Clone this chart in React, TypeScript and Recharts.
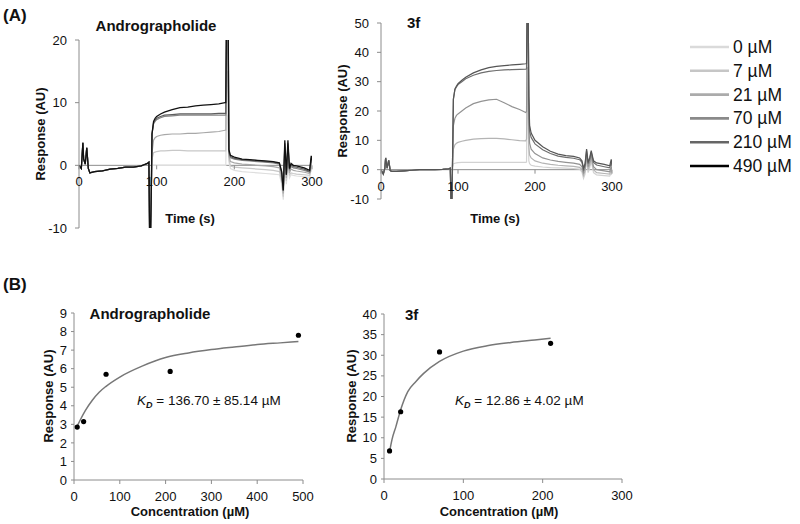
import React from 'react';
import { LineChart, Line, XAxis, YAxis, ReferenceLine, ComposedChart, Scatter } from 'recharts';

const FONT = '"Liberation Sans", Arial, Helvetica, sans-serif';
const AXIS = '#8c8c8c';
const INK = '#111';

// ---------- Sensorgram time points (s) ----------
const tPre = [0, 3, 5, 6, 8, 10, 12, 14, 20, 30, 40, 50, 60, 70, 80, 88, 90, 91, 92];
const tAssoc = [93, 94, 96, 98, 100, 105, 110, 120, 130, 140, 150, 160, 170, 180, 188, 189, 190, 191, 192];
const tDiss = [193, 195, 200, 210, 220, 230, 240, 250, 258, 261, 263, 265, 267, 269, 271, 273, 276, 280, 290, 297, 299, 300];
const timeTicks = [0, 100, 200, 300];

// ---------- Legend ----------
const concLabels = ['0 µM', '7 µM', '21 µM', '70 µM', '210 µM', '490 µM'];
const legendColors = ['#dadada', '#c6c6c6', '#ababab', '#8a8a8a', '#666666', '#000000'];

// ---------- Andrographolide sensorgram (AU) ----------
const androPre = [0, -0.5, 3.6, 1.0, 0.2, 2.8, -0.5, -1.2, -1.0, -0.9, -0.6, -0.5, -0.3, -0.3, -0.1, 0.3, 0.5, -12, -12];
const androAssoc0 = [-5, 0, 0, 0, 0, 0, 0, 0, 0, 0, 0, 0, 0, 0, 0, 0, 8, 8, 5];
const androAssoc7 = [-5, 1, 2.0, 2.1, 2.2, 2.3, 2.3, 2.4, 2.4, 2.3, 2.3, 2.3, 2.3, 2.3, 2.3, 2.3, 15, 15, 10];
const androAssoc21 = [-5, 2, 4.0, 4.4, 4.6, 4.8, 4.9, 5.0, 5.0, 5.1, 5.1, 5.2, 5.3, 5.4, 5.6, 5.6, 20, 20, 15];
const androAssoc70 = [-5, 5, 6.6, 7.0, 7.3, 7.6, 7.8, 7.9, 8.0, 8.0, 8.0, 8.0, 8.0, 8.0, 8.0, 8.0, 25, 25, 25];
const androAssoc210 = [-5, 5, 6.8, 7.2, 7.5, 7.8, 8.0, 8.1, 8.2, 8.2, 8.2, 8.2, 8.2, 8.3, 8.3, 8.3, 25, 25, 25];
const androAssoc490 = [-5, 5, 7.0, 7.5, 7.8, 8.2, 8.5, 8.9, 9.2, 9.3, 9.5, 9.6, 9.7, 9.8, 10.0, 10.0, 25, 25, 25];
const androDiss0 = [0.5, -0.5, -0.8, -1.0, -1.1, -1.2, -1.3, -1.4, -1.5, -3.0, -5.5, 0.5, -3.0, 0.5, -2.0, -1.5, -1.6, -1.7, -1.8, -1.9, -0.5, -1.0];
const androDiss7 = [1.0, -0.1, -0.3, -0.4, -0.5, -0.6, -0.7, -0.8, -1.0, -2.5, -5.0, 1.0, -2.5, 1.0, -1.5, -1.2, -1.3, -1.4, -1.5, -1.6, 0.0, -0.5];
const androDiss21 = [1.5, 0.6, 0.4, 0.2, 0.1, 0.0, -0.1, -0.2, -0.4, -2.0, -4.5, 2.0, -2.0, 2.0, -1.2, -0.6, -0.8, -0.9, -1.1, -1.3, 0.5, 0.0];
const androDiss70 = [2.0, 1.2, 1.0, 0.8, 0.7, 0.6, 0.5, 0.4, 0.2, -1.3, -4.0, 3.0, -1.5, 3.0, -0.8, -0.2, -0.4, -0.5, -0.8, -1.1, 1.0, 0.4];
const androDiss210 = [2.2, 1.4, 1.1, 0.9, 0.8, 0.7, 0.6, 0.5, 0.3, -1.2, -4.0, 3.5, -1.5, 3.5, -0.6, 0.1, -0.2, -0.3, -0.6, -1.0, 1.2, 0.5];
const androDiss490 = [2.5, 1.6, 1.3, 1.0, 0.9, 0.8, 0.7, 0.6, 0.4, -1.0, -4.0, 4.0, -1.5, 4.0, -0.5, 0.3, 0.0, -0.1, -0.4, -0.8, 1.5, 0.8];

// ---------- 3f sensorgram (AU) ----------
const f3Pre = [0, -1.5, 0.5, 4.0, 0.5, 3.2, -0.3, -0.6, -0.6, -0.4, -0.2, 0, 0, 0, 0.1, 0.3, 0.5, -12, -12];
const f3Assoc0 = [1, 2, 2.2, 2.3, 2.4, 2.5, 2.5, 2.5, 2.5, 2.5, 2.5, 2.5, 2.5, 2.5, 2.5, 2.6, 28, 20, 3];
const f3Assoc7 = [2, 7, 8.5, 9.0, 9.3, 9.7, 10.0, 10.4, 10.6, 10.7, 10.7, 10.5, 10.2, 9.9, 9.8, 10.5, 35, 30, 8];
const f3Assoc21 = [3, 15, 17.5, 18.5, 19.0, 20.0, 21.0, 22.5, 23.3, 23.8, 24.0, 22.8, 21.5, 20.5, 19.5, 19.8, 60, 55, 15];
const f3Assoc70 = [5, 24, 27.3, 28.2, 29.0, 30.0, 31.0, 32.2, 33.0, 33.5, 33.8, 34.0, 34.1, 34.2, 34.3, 34.4, 60, 60, 25];
const f3Assoc210 = [5, 24, 27.5, 28.5, 29.3, 30.5, 31.5, 33.0, 34.0, 34.8, 35.2, 35.5, 35.7, 35.9, 36.1, 36.2, 60, 60, 25];
const f3Diss0 = [2, 1.5, 1.2, 0.9, 0.7, 0.6, 0.5, 0.4, 0.2, -0.8, -3.0, -1.5, 3.5, -1.0, 0.5, 3.0, -1.0, -1.8, -2.0, -2.2, -1.0, -1.8];
const f3Diss7 = [5, 4.0, 3.0, 2.2, 1.8, 1.5, 1.3, 1.1, 0.8, 0.0, -2.0, -0.5, 4.5, 0.0, 1.5, 4.0, 0.0, -1.0, -1.3, -1.5, 0.0, -1.0];
const f3Diss21 = [9, 7.0, 5.5, 4.0, 3.3, 2.8, 2.5, 2.2, 1.8, 1.0, -1.0, 0.5, 5.5, 1.0, 2.5, 5.0, 1.0, 0.0, -0.4, -0.7, 1.0, 0.0];
const f3Diss70 = [13, 11.0, 8.8, 6.8, 5.5, 4.6, 4.2, 3.9, 3.4, 2.5, 0.0, 1.5, 6.5, 2.0, 3.5, 6.0, 2.5, 1.6, 1.0, 0.6, 2.5, 1.2];
const f3Diss210 = [15, 12.5, 10.0, 7.8, 6.3, 5.3, 4.8, 4.5, 4.0, 3.0, 0.5, 2.0, 7.0, 2.5, 4.0, 6.5, 3.0, 2.3, 1.8, 1.3, 3.5, 2.0];

// ---------- Binding (steady state) ----------
const androConc = [7, 21, 70, 210, 490];
const androResp = [2.85, 3.15, 5.7, 5.85, 7.8];
const androFitConc = [7, 15, 25, 40, 55, 70, 100, 150, 200, 250, 300, 350, 400, 450, 490];
const androFitResp = [2.9, 3.3, 3.75, 4.3, 4.73, 5.05, 5.55, 6.15, 6.6, 6.85, 7.03, 7.17, 7.3, 7.39, 7.46];

const f3Conc = [7, 21, 70, 210];
const f3Resp = [6.8, 16.3, 30.8, 32.9];
const f3FitConc = [7, 10, 15, 21, 30, 40, 50, 70, 100, 130, 160, 190, 210];
const f3FitResp = [6.6, 9.5, 12.7, 16.8, 21.2, 23.6, 25.6, 28.5, 31.0, 32.3, 33.1, 33.7, 34.1];

// ---------- build tables ----------
const tAll = [...tPre, ...tAssoc, ...tDiss];

type S = { key: string; assoc: number[]; diss: number[]; color: string; width: number };
const androSeries: S[] = [
  { key: 'c0', assoc: androAssoc0, diss: androDiss0, color: '#dedede', width: 1.2 },
  { key: 'c7', assoc: androAssoc7, diss: androDiss7, color: '#c8c8c8', width: 1.2 },
  { key: 'c21', assoc: androAssoc21, diss: androDiss21, color: '#a8a8a8', width: 1.2 },
  { key: 'c70', assoc: androAssoc70, diss: androDiss70, color: '#858585', width: 1.2 },
  { key: 'c210', assoc: androAssoc210, diss: androDiss210, color: '#5e5e5e', width: 1.2 },
  { key: 'c490', assoc: androAssoc490, diss: androDiss490, color: '#111111', width: 1.3 },
];
const f3Series: S[] = [
  { key: 'c0', assoc: f3Assoc0, diss: f3Diss0, color: '#d2d2d2', width: 1.2 },
  { key: 'c7', assoc: f3Assoc7, diss: f3Diss7, color: '#b4b4b4', width: 1.2 },
  { key: 'c21', assoc: f3Assoc21, diss: f3Diss21, color: '#939393', width: 1.2 },
  { key: 'c70', assoc: f3Assoc70, diss: f3Diss70, color: '#6e6e6e', width: 1.2 },
  { key: 'c210', assoc: f3Assoc210, diss: f3Diss210, color: '#555555', width: 1.2 },
];

function buildRows(pre: number[], series: S[]) {
  const full = series.map((s) => [...pre, ...s.assoc, ...s.diss]);
  return tAll.map((t, i) => {
    const row: Record<string, number> = { t };
    series.forEach((s, j) => {
      row[s.key] = full[j][i];
    });
    return row;
  });
}
const androRows = buildRows(androPre, androSeries);
const f3Rows = buildRows(f3Pre, f3Series);

const androPoints = androConc.map((x, i) => ({ x, y: androResp[i] }));
const androFit = androFitConc.map((x, i) => ({ x, y: androFitResp[i] }));
const f3Points = f3Conc.map((x, i) => ({ x, y: f3Resp[i] }));
const f3Fit = f3FitConc.map((x, i) => ({ x, y: f3FitResp[i] }));

// ---------- helpers ----------
function ZeroTick(props: any) {
  const { x, payload, zeroY } = props;
  return (
    <g>
      <line x1={x} x2={x} y1={zeroY} y2={zeroY + 4} stroke={AXIS} />
      <text x={x} y={zeroY + 21} textAnchor="middle" fontSize={13} fontFamily={FONT} fill={INK}>
        {payload.value}
      </text>
    </g>
  );
}

const tickStyle = { fontSize: 13, fill: INK, fontFamily: FONT };

function Dot(props: any) {
  const { cx, cy } = props;
  return <circle cx={cx} cy={cy} r={2.6} fill="#000" />;
}

// layout constants (plot areas inside each chart)
const A1 = { w: 330, h: 260, top: 40, bottom: 228, left: 79, right: 312, ymin: -10, ymax: 20 };
const A2 = { w: 330, h: 260, top: 23, bottom: 199, left: 51, right: 282, ymin: -10, ymax: 50 };
const zeroOf = (p: typeof A1) => p.top + ((p.bottom - p.top) * p.ymax) / (p.ymax - p.ymin);

function Sensor({ rows, series, p, yTicks }: { rows: any[]; series: S[]; p: typeof A1; yTicks: number[] }) {
  const yw = 40;
  const xh = 20;
  return (
    <LineChart
      width={p.w}
      height={p.h}
      data={rows}
      margin={{ top: p.top, right: p.w - p.right, bottom: p.h - p.bottom - xh, left: p.left - yw }}
    >
      <XAxis
        dataKey="t"
        type="number"
        domain={[0, 300]}
        ticks={timeTicks}
        interval={0}
        axisLine={false}
        tickLine={false}
        tickSize={0}
        tickMargin={0}
        height={xh}
        allowDataOverflow
        tick={<ZeroTick zeroY={zeroOf(p)} />}
      />
      <YAxis
        type="number"
        domain={[p.ymin, p.ymax]}
        ticks={yTicks}
        interval={0}
        allowDataOverflow
        width={yw}
        axisLine={{ stroke: AXIS }}
        tickLine={{ stroke: AXIS }}
        tickSize={4}
        tickMargin={8}
        tick={tickStyle}
      />
      <ReferenceLine y={0} stroke={AXIS} strokeWidth={1} />
      {series.map((s) => (
        <Line
          key={s.key}
          dataKey={s.key}
          type="linear"
          stroke={s.color}
          strokeWidth={s.width}
          dot={false}
          isAnimationActive={false}
        />
      ))}
    </LineChart>
  );
}

function Binding({
  fit,
  points,
  xMax,
  xTicks,
  yMax,
  yTicks,
  margin,
}: {
  fit: any[];
  points: any[];
  xMax: number;
  xTicks: number[];
  yMax: number;
  yTicks: number[];
  margin: any;
}) {
  return (
    <ComposedChart width={330} height={254} margin={margin}>
      <XAxis
        dataKey="x"
        type="number"
        domain={[0, xMax]}
        ticks={xTicks}
        interval={0}
        height={30}
        axisLine={{ stroke: AXIS }}
        tickLine={{ stroke: AXIS }}
        tickSize={4}
        tickMargin={8}
        tick={tickStyle}
      />
      <YAxis
        dataKey="y"
        type="number"
        domain={[0, yMax]}
        ticks={yTicks}
        interval={0}
        width={40}
        axisLine={{ stroke: AXIS }}
        tickLine={{ stroke: AXIS }}
        tickSize={3}
        tickMargin={4}
        tick={tickStyle}
      />
      <Line data={fit} dataKey="y" type="monotone" stroke="#777" strokeWidth={1.5} dot={false} isAnimationActive={false} />
      <Scatter data={points} dataKey="y" fill="#000" shape={<Dot />} isAnimationActive={false} />
    </ComposedChart>
  );
}

const bold = { fontFamily: FONT, fontWeight: 700, fill: INK } as const;

export default function App() {
  return (
    <div style={{ position: 'absolute', left: 0, top: 0, width: 800, height: 524, background: '#fff', overflow: 'hidden' }}>
      <div style={{ position: 'absolute', left: 0, top: 0 }}>
        <Sensor rows={androRows} series={androSeries} p={A1} yTicks={[-10, 0, 10, 20]} />
      </div>
      <div style={{ position: 'absolute', left: 330, top: 0 }}>
        <Sensor rows={f3Rows} series={f3Series} p={A2} yTicks={[-10, 0, 10, 20, 30, 40, 50]} />
      </div>
      <div style={{ position: 'absolute', left: 0, top: 270 }}>
        <Binding
          fit={androFit}
          points={androPoints}
          xMax={500}
          xTicks={[0, 100, 200, 300, 400, 500]}
          yMax={9}
          yTicks={[0, 1, 2, 3, 4, 5, 6, 7, 8, 9]}
          margin={{ top: 43, right: 27, bottom: 14, left: 34 }}
        />
      </div>
      <div style={{ position: 'absolute', left: 330, top: 270 }}>
        <Binding
          fit={f3Fit}
          points={f3Points}
          xMax={300}
          xTicks={[0, 100, 200, 300]}
          yMax={40}
          yTicks={[0, 5, 10, 15, 20, 25, 30, 35, 40]}
          margin={{ top: 44, right: 38, bottom: 15, left: 14 }}
        />
      </div>
      <svg
        width={800}
        height={524}
        style={{ position: 'absolute', left: 0, top: 0, pointerEvents: 'none' }}
      >
        <text x={3} y={21} fontSize={17} {...bold}>(A)</text>
        <text x={3} y={290} fontSize={17} {...bold}>(B)</text>

        <text x={156} y={31} fontSize={15} textAnchor="middle" {...bold}>Andrographolide</text>
        <text x={407} y={28} fontSize={15} {...bold}>3f</text>
        <text x={150} y={319} fontSize={15} textAnchor="middle" {...bold}>Andrographolide</text>
        <text x={405} y={320} fontSize={15} {...bold}>3f</text>

        <text x={190} y={223} fontSize={13} textAnchor="middle" {...bold}>Time (s)</text>
        <text x={495} y={223} fontSize={13} textAnchor="middle" {...bold}>Time (s)</text>
        <text x={190} y={516} fontSize={13} textAnchor="middle" {...bold}>Concentration (µM)</text>
        <text x={499} y={516} fontSize={13} textAnchor="middle" {...bold}>Concentration (µM)</text>

        <text transform="translate(45,134) rotate(-90)" fontSize={13} textAnchor="middle" {...bold}>Response (AU)</text>
        <text transform="translate(347,111) rotate(-90)" fontSize={13} textAnchor="middle" {...bold}>Response (AU)</text>
        <text transform="translate(53,396) rotate(-90)" fontSize={13} textAnchor="middle" {...bold}>Response (AU)</text>
        <text transform="translate(356,396) rotate(-90)" fontSize={13} textAnchor="middle" {...bold}>Response (AU)</text>

        <text x={137} y={405} fontSize={13.5} fontFamily={FONT} fill={INK}>
          <tspan fontStyle="italic">K</tspan>
          <tspan fontStyle="italic" fontWeight={700} fontSize={9} dy={3}>D</tspan>
          <tspan dy={-3}> = 136.70 ± 85.14 µM</tspan>
        </text>
        <text x={455} y={405} fontSize={13.5} fontFamily={FONT} fill={INK}>
          <tspan fontStyle="italic">K</tspan>
          <tspan fontStyle="italic" fontWeight={700} fontSize={9} dy={3}>D</tspan>
          <tspan dy={-3}> = 12.86 ± 4.02 µM</tspan>
        </text>

        {concLabels.map((lab, i) => {
          const y = 47 + i * 23.8;
          return (
            <g key={lab}>
              <line x1={690} x2={729} y1={y} y2={y} stroke={legendColors[i]} strokeWidth={2.6} />
              <text x={733} y={y + 6} fontSize={17.5} fontFamily={FONT} fill={INK}>
                {lab}
              </text>
            </g>
          );
        })}
      </svg>
    </div>
  );
}
